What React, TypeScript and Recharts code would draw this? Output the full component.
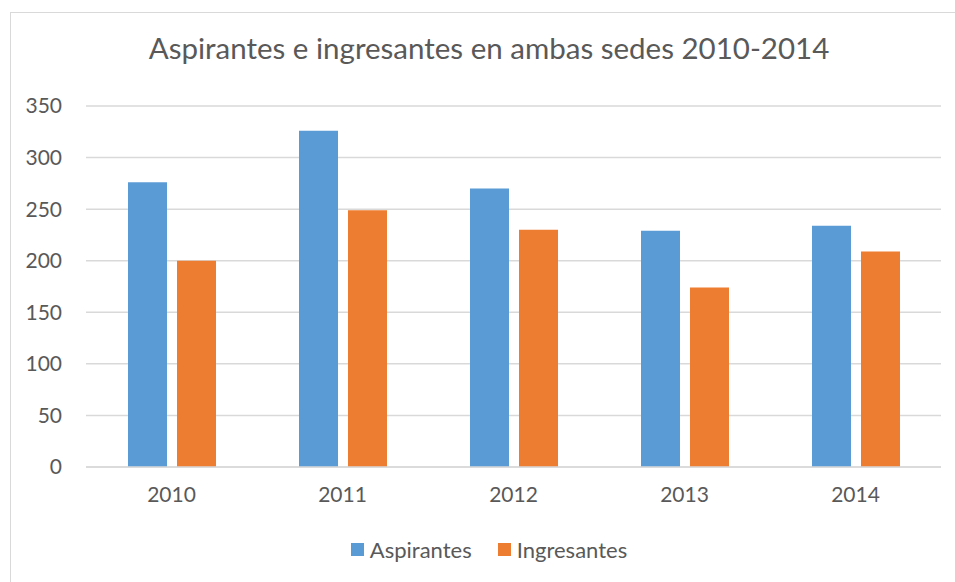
import { BarChart, Bar, XAxis, YAxis, CartesianGrid } from "recharts";

const YEARS = ["2010", "2011", "2012", "2013", "2014"];
const ASPIRANTES = [276, 326, 270, 229, 234];
const INGRESANTES = [200, 249, 230, 174, 209];
const Y_TICKS = [0, 50, 100, 150, 200, 250, 300, 350];

const BLUE = "#5b9bd5";
const ORANGE = "#ed7d31";
const TEXT = "#595959";
const FONT = "Lato, 'Open Sans', sans-serif";

const rows = YEARS.map((year, i) => ({
  year,
  aspirantes: ASPIRANTES[i],
  ingresantes: INGRESANTES[i],
}));

export default function App() {
  return (
    <div
      style={{
        position: "absolute",
        left: 0,
        top: 0,
        width: 955,
        height: 582,
        overflow: "hidden",
        background: "#fff",
        fontFamily: FONT,
      }}
    >
      {/* chart frame, right and bottom edges fall outside the shot */}
      <div
        style={{
          position: "absolute",
          left: 10,
          top: 12,
          width: 960,
          height: 600,
          border: "1.5px solid #d9d9d9",
        }}
      />
      <div
        style={{
          position: "absolute",
          left: 0,
          width: 978,
          top: 30,
          textAlign: "center",
          fontSize: 29.5,
          color: TEXT,
        }}
      >
        Aspirantes e ingresantes en ambas sedes 2010-2014
      </div>
      <div style={{ position: "absolute", left: 0, top: 0 }}>
        <BarChart
          width={955}
          height={582}
          data={rows}
          margin={{ top: 106, right: 14, bottom: 0, left: 0 }}
          barCategoryGap={42}
          barGap={10}
        >
          <CartesianGrid vertical={false} stroke="#d9d9d9" strokeWidth={1.5} />
          <XAxis
            dataKey="year"
            height={115}
            tickLine={false}
            axisLine={{ stroke: "#d9d9d9", strokeWidth: 1.5 }}
            tickSize={0}
            tickMargin={20}
            tick={{ fill: TEXT, fontSize: 21, fontFamily: FONT }}
          />
          <YAxis
            width={86}
            domain={[0, 350]}
            ticks={Y_TICKS}
            tickLine={false}
            axisLine={false}
            tickSize={0}
            tickMargin={24}
            tick={{ fill: TEXT, fontSize: 21, fontFamily: FONT }}
          />
          <Bar dataKey="aspirantes" fill={BLUE} isAnimationActive={false} />
          <Bar dataKey="ingresantes" fill={ORANGE} isAnimationActive={false} />
        </BarChart>
      </div>
      {/* legend */}
      <div
        style={{
          position: "absolute",
          top: 536,
          left: 0,
          width: 978,
          display: "flex",
          justifyContent: "center",
          gap: 26,
          fontSize: 22,
          color: TEXT,
        }}
      >
        {[
          { name: "Aspirantes", color: BLUE },
          { name: "Ingresantes", color: ORANGE },
        ].map((item) => (
          <div key={item.name} style={{ display: "flex", alignItems: "center", gap: 6 }}>
            <div style={{ width: 13, height: 13, background: item.color }} />
            <span>{item.name}</span>
          </div>
        ))}
      </div>
    </div>
  );
}
